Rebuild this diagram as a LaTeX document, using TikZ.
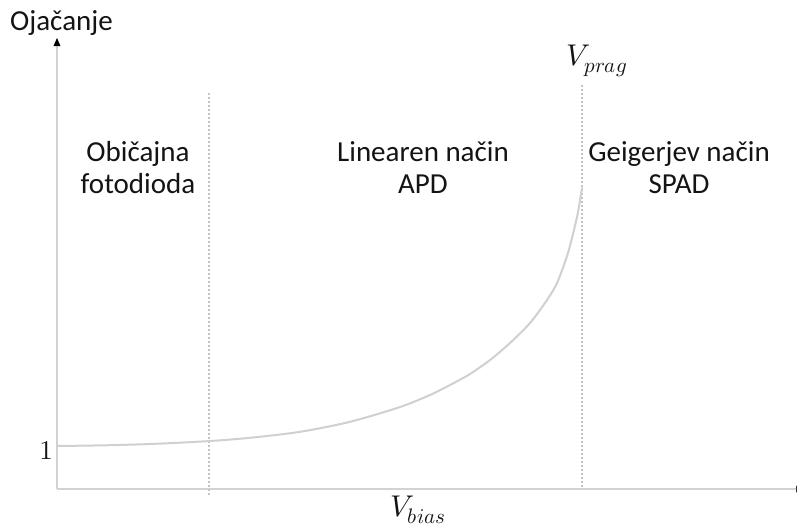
\documentclass[tikz,border=0pt]{standalone}
\usepackage{fontspec}
\usepackage{unicode-math}
\setmainfont{Carlito}
\setmathfont{latinmodern-math.otf}
\newfontfamily\lmroman{lmroman10-regular.otf}
\definecolor{axisgray}{HTML}{D2D2D2}
\definecolor{curvegray}{HTML}{D0D0D0}
\definecolor{guidegray}{HTML}{C4C4C4}
\definecolor{inkblack}{HTML}{141414}
\begin{document}
\begin{tikzpicture}[x=1pt,y=-1pt,
  axis/.style={draw=axisgray,line width=2.4pt},
  guide/.style={draw=guidegray,line width=1.6pt,dash pattern=on 2pt off 2pt},
  gaincurve/.style={draw=curvegray,line width=2pt,line cap=round},
  region/.style={font=\fontsize{29}{32}\selectfont,align=center,anchor=base,inner sep=0pt,text=inkblack},
  voltlabel/.style={font=\fontsize{30}{34}\selectfont,inner sep=0pt,anchor=base,text=inkblack}]
\useasboundingbox (0,0) rectangle (797,531);
\clip (0,0) rectangle (797,531);
\fill[white] (0,0) rectangle (797,531);

% axes
\coordinate (origin) at (57,489);
\coordinate (ytop) at (57,38);
\coordinate (xend) at (803,489);
\draw[axis] (origin) -- (57,46);
\fill[black] (ytop) -- (60.5,46) -- (53.5,46) -- cycle;
\draw[axis] (origin) -- (796,489);
\fill[black!80] (xend) -- (796,485.5) -- (796,492.5) -- cycle;

% boundaries between operating regions
\coordinate (b1top) at (209,93);
\coordinate (b1bot) at (209,495);
\coordinate (b2top) at (582,85);
\coordinate (b2bot) at (582,489);
\draw[guide] (b1top) -- (b1bot);
\draw[guide] (b2top) -- (b2bot);

% gain versus bias voltage
\draw[gaincurve] plot[smooth,tension=0.5] coordinates {
  (57,446) (110,445.2) (160,443.6) (210,441) (250,437.8) (300,431.8)
  (350,421.8) (400,407) (430,395) (450,385) (470,374) (490,360)
  (510,343) (530,323) (547,300) (557,283) (567,256) (573,234)
  (578,212) (582,188)};

% labels
\node[anchor=base west,inner sep=0pt,font=\fontsize{29}{33}\selectfont,text=inkblack] (ylabel) at (10,30) {Ojačanje};
\node[anchor=center,inner sep=0pt,font=\fontsize{27}{30}\selectfont,text=inkblack] (one) at (46,450) {\lmroman 1};
\node[voltlabel] (vprag) at (597,65) {$V_{prag}$};
\node[voltlabel] (vbias) at (418,516) {$V_{bias}$};

\node[region] (reg1) at (138,193.5) {Običajna\\fotodioda};
\node[region] (reg2) at (423,193.5) {Linearen način\\APD};
\node[region] (reg3) at (679,193.5) {Geigerjev način\\SPAD};
\end{tikzpicture}
\end{document}
